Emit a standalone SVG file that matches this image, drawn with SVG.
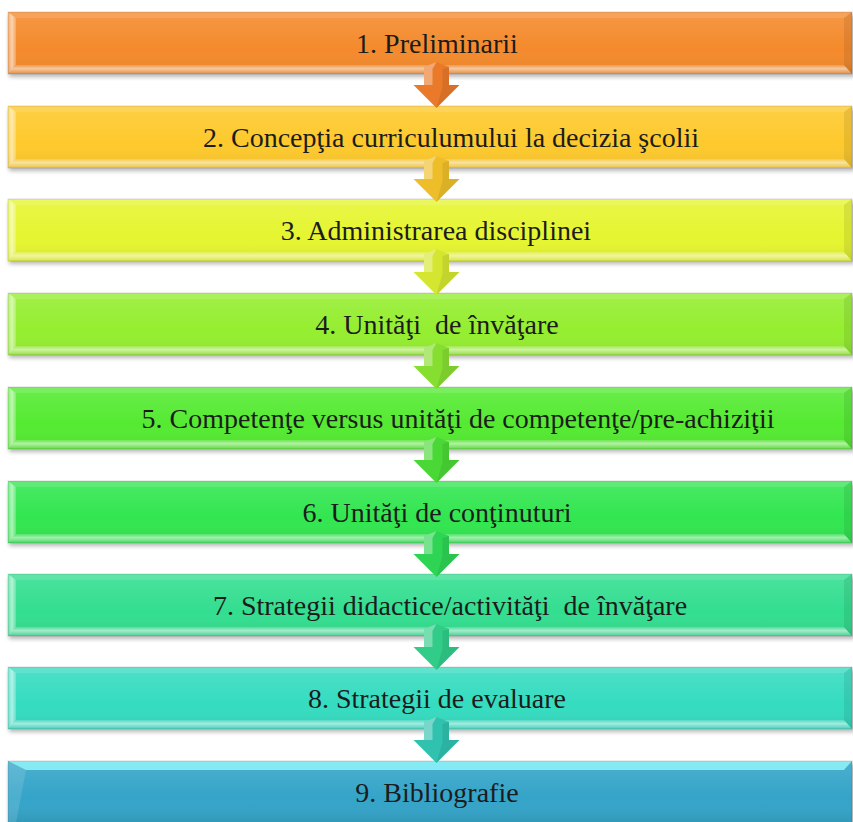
<svg xmlns="http://www.w3.org/2000/svg" xmlns:xlink="http://www.w3.org/1999/xlink" width="853" height="822" viewBox="0 0 853 822">
<style>
.lbl{font-family:"Liberation Serif","Times New Roman",serif;font-size:28px;fill:#1c1c1c;text-anchor:middle}
.shadow{fill:#000;opacity:0.28;filter:url(#blur)}
</style>
<defs>
<filter id="blur" x="-5%" y="-30%" width="110%" height="160%"><feGaussianBlur stdDeviation="2"/></filter>
<linearGradient id="shade" x1="0" y1="0" x2="0" y2="1">
<stop offset="0" stop-color="#fff" stop-opacity="0.12"/>
<stop offset="0.6" stop-color="#fff" stop-opacity="0"/>
<stop offset="1" stop-color="#000" stop-opacity="0.08"/>
</linearGradient>
<linearGradient id="botband" x1="0" y1="0" x2="0" y2="1">
<stop offset="0" stop-color="#fff" stop-opacity="0.15"/>
<stop offset="0.4" stop-color="#fff" stop-opacity="0.55"/>
<stop offset="1" stop-color="#fff" stop-opacity="0.1"/>
</linearGradient>
<linearGradient id="leftband" x1="0" y1="0" x2="1" y2="0">
<stop offset="0" stop-color="#fff" stop-opacity="0.25"/>
<stop offset="0.5" stop-color="#fff" stop-opacity="0.6"/>
<stop offset="1" stop-color="#fff" stop-opacity="0.2"/>
</linearGradient>
<g id="bevel">
<rect x="0" y="0" width="844" height="62" fill="url(#shade)"/>
<polygon points="0,0 844,0 836,6 8,6" fill="#fff" opacity="0.12"/>
<polygon points="0,0 8,6 8,53 0,62" fill="url(#leftband)"/>
<polygon points="0,62 8,53 836,53 844,62" fill="url(#botband)"/>
<polygon points="844,0 844,62 836,53 836,6" fill="#000" opacity="0.08"/>
<rect x="0" y="0" width="844" height="62" fill="none" stroke="#000" stroke-opacity="0.12" stroke-width="1"/>
</g>
<g id="bevelTop">
<rect x="0" y="0" width="844" height="62" fill="url(#shade)"/>
<polygon points="0,0 844,0 836,9 18,9" fill="#9ff" opacity="0.75"/>
<polygon points="0,0 18,9 8,62 0,62" fill="#fff" opacity="0.12"/>
<rect x="0" y="0" width="844" height="62" fill="none" stroke="#000" stroke-opacity="0.12" stroke-width="1"/>
</g>
<g id="arrow">
<path d="M0,-12 L12.5,-7 L12.5,11 L23,11 L0,34 L-23,11 L-12.5,11 L-12.5,-7 Z"/>
<polygon points="-12.5,-7 0,-12 -4,-5 -4,11 -12.5,11" fill="#fff" opacity="0.35"/>
<polygon points="0,34 23,11 12.5,11 12.5,-7 6,-5 6,13" fill="#000" opacity="0.08"/>
</g>
</defs>
<rect width="853" height="822" fill="#fff"/>

<g id="node1">
<rect class="shadow" x="9" y="15" width="846" height="62"/>
<rect x="8" y="12" width="844" height="62" fill="#F48A2C"/>
<use xlink:href="#bevel" x="8" y="12"/>
<text class="lbl" x="437" y="52.5">1. Preliminarii</text>
</g>
<g id="node2">
<rect class="shadow" x="9" y="109" width="846" height="62"/>
<rect x="8" y="106" width="844" height="62" fill="#FDC92C"/>
<use xlink:href="#bevel" x="8" y="106"/>
<text class="lbl" x="451" y="146.5">2. Concepţia curriculumului la decizia şcolii</text>
</g>
<g id="node3">
<rect class="shadow" x="9" y="202" width="846" height="62"/>
<rect x="8" y="199" width="844" height="62" fill="#E6F530"/>
<use xlink:href="#bevel" x="8" y="199"/>
<text class="lbl" x="436" y="239.5">3. Administrarea disciplinei</text>
</g>
<g id="node4">
<rect class="shadow" x="9" y="296" width="846" height="62"/>
<rect x="8" y="293" width="844" height="62" fill="#95EE30"/>
<use xlink:href="#bevel" x="8" y="293"/>
<text class="lbl" x="437" y="333.5" xml:space="preserve">4. Unităţi  de învăţare</text>
</g>
<g id="node5">
<rect class="shadow" x="9" y="390" width="846" height="62"/>
<rect x="8" y="387" width="844" height="62" fill="#55EA32"/>
<use xlink:href="#bevel" x="8" y="387"/>
<text class="lbl" x="458" y="427.5">5. Competenţe versus unităţi de competenţe/pre-achiziţii</text>
</g>
<g id="node6">
<rect class="shadow" x="9" y="484" width="846" height="62"/>
<rect x="8" y="481" width="844" height="62" fill="#32E650"/>
<use xlink:href="#bevel" x="8" y="481"/>
<text class="lbl" x="437" y="521.5">6. Unităţi de conţinuturi</text>
</g>
<g id="node7">
<rect class="shadow" x="9" y="577" width="846" height="62"/>
<rect x="8" y="574" width="844" height="62" fill="#33DE90"/>
<use xlink:href="#bevel" x="8" y="574"/>
<text class="lbl" x="450" y="614.5" xml:space="preserve">7. Strategii didactice/activităţi  de învăţare</text>
</g>
<g id="node8">
<rect class="shadow" x="9" y="670" width="846" height="62"/>
<rect x="8" y="667" width="844" height="62" fill="#35DCC0"/>
<use xlink:href="#bevel" x="8" y="667"/>
<text class="lbl" x="437" y="707.5">8. Strategii de evaluare</text>
</g>
<g id="node9">
<rect class="shadow" x="9" y="764" width="846" height="62"/>
<rect x="8" y="761" width="844" height="62" fill="#34A4C8"/>
<use xlink:href="#bevelTop" x="8" y="761"/>
<text class="lbl" x="437" y="801.5">9. Bibliografie</text>
</g>

<g id="connectors">
<use xlink:href="#arrow" x="436.5" y="74" fill="#EA7A2A"/>
<use xlink:href="#arrow" x="436.5" y="168" fill="#EEBE2A"/>
<use xlink:href="#arrow" x="436.5" y="261" fill="#D4E630"/>
<use xlink:href="#arrow" x="436.5" y="355" fill="#86DE30"/>
<use xlink:href="#arrow" x="436.5" y="449" fill="#4AD836"/>
<use xlink:href="#arrow" x="436.5" y="543" fill="#2ED454"/>
<use xlink:href="#arrow" x="436.5" y="636" fill="#30CC88"/>
<use xlink:href="#arrow" x="436.5" y="729" fill="#30C2AE"/>
</g>
</svg>
